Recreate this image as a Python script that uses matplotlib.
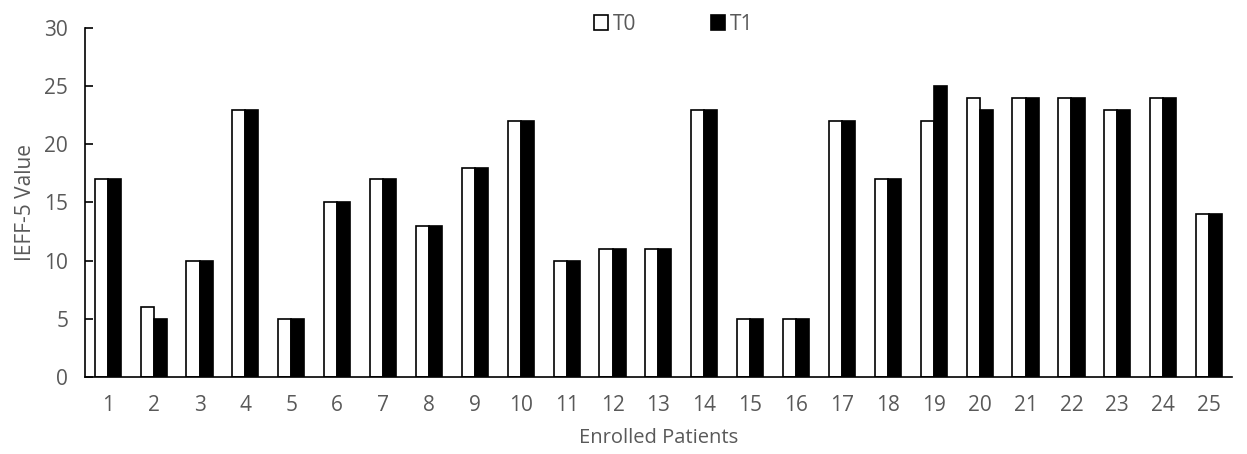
import numpy as np
import matplotlib.pyplot as plt

plt.rcParams['font.family'] = ['Open Sans', 'DejaVu Sans']

patients = [str(i) for i in range(1, 26)]
t0 = [17, 6, 10, 23, 5, 15, 17, 13, 18, 22, 10, 11, 11, 23, 5, 5, 22, 17, 22, 24, 24, 24, 23, 24, 14]
t1 = [17, 5, 10, 23, 5, 15, 17, 13, 18, 22, 10, 11, 11, 23, 5, 5, 22, 17, 25, 23, 24, 24, 23, 24, 14]

grey = '#595959'
fig = plt.figure(figsize=(12.47, 4.54), dpi=100)
ax = fig.add_axes([0.068, 0.170, 0.920, 0.768])

x = np.arange(len(patients))
w = 0.285
ax.bar(x - w / 2, t0, w, color='white', edgecolor='black', linewidth=1.2, label='T0')
ax.bar(x + w / 2, t1, w, color='black', edgecolor='black', linewidth=1.2, label='T1')

ax.set_xlim(-0.5, len(patients) - 0.5)
ax.set_ylim(0, 30)
ax.set_yticks(range(0, 31, 5))
ax.set_xticks(x)
ax.set_xticklabels(patients)
ax.tick_params(axis='x', length=0, pad=13, labelsize=15, labelcolor=grey)
ax.tick_params(axis='y', direction='in', length=6, width=1.2, pad=12, labelsize=15, labelcolor=grey)

for s in ['top', 'right']:
    ax.spines[s].set_visible(False)
for s in ['left', 'bottom']:
    ax.spines[s].set_linewidth(1.2)
    ax.spines[s].set_color('black')

ax.set_xlabel('Enrolled Patients', fontsize=14.5, color=grey, labelpad=9)
ax.set_ylabel('IEFF-5 Value', fontsize=15, color=grey, labelpad=6)

leg = ax.legend(loc='upper center', bbox_to_anchor=(0.513, 1.095), ncol=2, frameon=False,
                fontsize=15, handlelength=0.7, handleheight=0.7, handletextpad=0.2,
                columnspacing=3.6)
for t in leg.get_texts():
    t.set_color(grey)

fig.savefig('out.png', dpi=100)
